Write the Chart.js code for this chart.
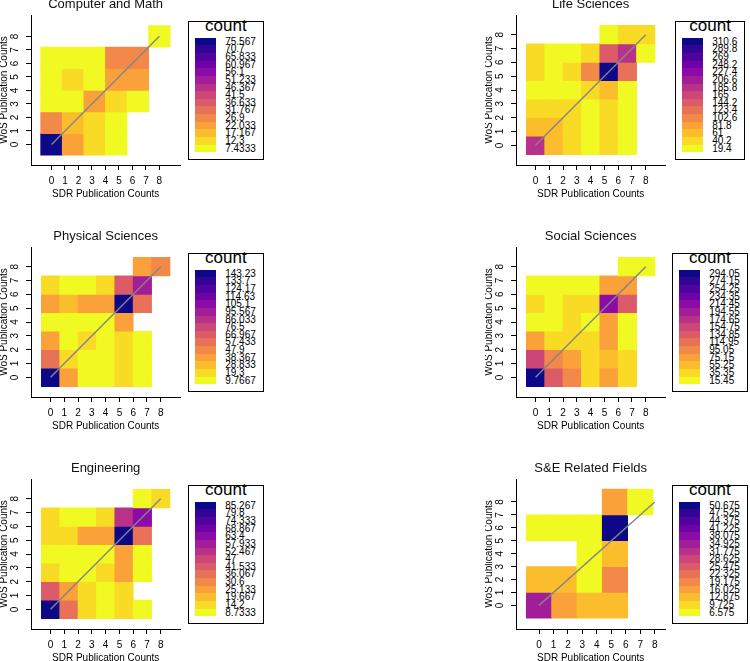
<!DOCTYPE html>
<html><head><meta charset="utf-8">
<script src="https://cdn.jsdelivr.net/npm/chart.js@4.4.1/dist/chart.umd.min.js"></script>
<style>
html,body{margin:0;padding:0;background:#fff;overflow:hidden}
#wrap{position:relative;width:750px;height:661px;overflow:hidden;font-family:'Liberation Sans',Arial,sans-serif;background:#fff}
canvas{position:absolute}
.leg{position:absolute;box-sizing:border-box;height:139px;border:1.3px solid #000;padding:16.3px 7px 0 5.7px;background:#fff}
.lt{position:absolute;left:0;right:0;top:-4.7px;text-align:center;font-size:17px;line-height:17px;color:#000}
.lb{display:flex}
.sw div{width:21.5px;height:7.63px}
.lab{margin-left:9px;font-size:10px;color:#000}
.lab div{height:7.63px;line-height:7.63px;white-space:nowrap}
</style></head><body><div id="wrap"></div>
<script>
// ---------- DATA ----------
const axisTicks = [0, 1, 2, 3, 4, 5, 6, 7, 8];
const diagonal = [{x: 0, y: 0}, {x: 8, y: 8}];

// Computer and Math (rows: bottom -> top)
const cmX = [0, 1.6, 3.2, 4.8, 6.4, 8];
const cmY = [0, 1.6, 3.2, 4.8, 6.4, 8];
const cmCounts = [
  [76, 22, 14, 8, null, null],
  [28, 19, 13, 8, null, null],
  [8, 8, 22, 14, 8, null],
  [8, 13, 8, 22, 23, null],
  [8, 8, 8, 28, 28, null],
  [null, null, null, null, null, 8]
];
const cmLegend = ['75.567','70.7','65.833','60.967','56.1','51.233','46.367','41.5','36.633','31.767','26.9','22.033','17.167','12.3','7.4333'];

// Life Sciences
const lsX = [0, 1.333, 2.667, 4, 5.333, 6.667, 8];
const lsY = [0, 1.333, 2.667, 4, 5.333, 6.667, 8];
const lsCounts = [
  [195, 68, 46, 22, 46, 25, null],
  [68, 66, 46, 24, 46, 22, null],
  [46, 46, 44, 22, 46, 20, null],
  [22, 21, 23, 46, 66, 25, null],
  [47, 20, 46, 110, 310, 125, null],
  [46, 22, 21, 46, 150, 190, 24],
  [null, null, null, null, 22, 48, 47]
];
const lsLegend = ['310.6','289.8','269','248.2','227.4','206.6','185.8','165','144.2','123.4','102.6','81.8','61','40.2','19.4'];

// Physical Sciences
const psX = [0, 1.333, 2.667, 4, 5.333, 6.667, 8];
const psY = [0, 1.333, 2.667, 4, 5.333, 6.667, 8];
const psCounts = [
  [143, 38, 10, 11, 18, 10, null],
  [62, 20, 10, 10, 18, 10, null],
  [36, 10, 22, 11, 18, 10, null],
  [10, 10, 10, 10, 36, null, null],
  [37, 28, 37, 37, 141, 62, null],
  [22, 10, 11, 21, 66, 100, null],
  [null, null, null, null, null, 37, 52]
];
const psLegend = ['143.23','133.7','124.17','114.63','105.1','95.567','86.033','76.5','66.967','57.433','47.9','38.367','28.833','19.3','9.7667'];

// Social Sciences
const ssX = [0, 1.333, 2.667, 4, 5.333, 6.667, 8];
const ssY = [0, 1.333, 2.667, 4, 5.333, 6.667, 8];
const ssCounts = [
  [294, 140, 100, 45, 78, 45, null],
  [145, 100, 78, 45, 60, 42, null],
  [72, 45, 45, 42, 78, 18, null],
  [18, 17, 40, 18, 68, 16, null],
  [45, 17, 45, 44, 205, 125, null],
  [17, 17, 17, 17, 70, 78, null],
  [null, null, null, null, null, 16, 16]
];
const ssLegend = ['294.05','274.15','254.25','234.35','214.45','194.55','174.65','154.75','134.85','114.95','95.05','75.15','55.25','35.35','15.45'];

// Engineering
const enX = [0, 1.333, 2.667, 4, 5.333, 6.667, 8];
const enY = [0, 1.333, 2.667, 4, 5.333, 6.667, 8];
const enCounts = [
  [85, 36, 16, 9, 15, 9, null],
  [44, 25, 16, 9, 15, null, null],
  [15, 9, 9, 15, 24, 9, null],
  [9, 9, 9, 9, 23, 9, null],
  [16, 16, 25, 24, 84, 36, null],
  [15, 9, 9, 15, 50, 63, null],
  [null, null, null, null, null, 9, 16]
];
const enLegend = ['85.267','79.8','74.333','68.867','63.4','57.933','52.467','47','41.533','36.067','30.6','25.133','19.667','14.2','8.7333'];

// S&E Related Fields
const seX = [0, 1.75, 3.5, 5.25, 7];
const seY = [0, 2, 4, 6, 8];
const seCounts = [
  [35, 17, 14, 12, null],
  [14, 14, 7, 20, null],
  [null, null, 7, 13, null],
  [7, 7, 7, 51, null],
  [null, null, null, 17, 7]
];
const seLegend = ['50.675','47.525','44.375','41.225','38.075','34.925','31.775','28.625','25.475','22.325','19.175','16.025','12.875','9.725','6.575'];

// ---------- LAYOUT ----------
const panels = [
  {title: 'Computer and Math', x: cmX, y: cmY, counts: cmCounts, legend: cmLegend, left: 0, top: -3, xr: [-1.52, 9.55], yr: [-1.52, 9.58], legLeft: 188, legTop: 20.5},
  {title: 'Life Sciences', x: lsX, y: lsY, counts: lsCounts, legend: lsLegend, left: 485, top: -3, xr: [-1.42, 9.42], yr: [-1.42, 9.42], legLeft: 675, legTop: 20.5},
  {title: 'Physical Sciences', x: psX, y: psY, counts: psCounts, legend: psLegend, left: 0, top: 229, xr: [-1.42, 9.42], yr: [-1.42, 9.42], legLeft: 188, legTop: 252.5},
  {title: 'Social Sciences', x: ssX, y: ssY, counts: ssCounts, legend: ssLegend, left: 485, top: 229, xr: [-1.42, 9.42], yr: [-1.42, 9.42], legLeft: 672, legTop: 252.5},
  {title: 'Engineering', x: enX, y: enY, counts: enCounts, legend: enLegend, left: 0, top: 461, xr: [-1.42, 9.42], yr: [-1.42, 9.42], legLeft: 188, legTop: 484.5},
  {title: 'S&E Related Fields', x: seX, y: seY, counts: seCounts, legend: seLegend, left: 485, top: 461, xr: [-1.59, 8.73], yr: [-1.83, 9.78], legLeft: 672, legTop: 484.5}
];

// ---------- COLOURS (reversed plasma, 15 levels) ----------
const PLASMA_STOPS = ['#0d0887','#41049d','#6a00a8','#8f0da4','#b12a90','#cc4778','#e16462','#f2844b','#fca636','#fcce25','#f0f921'];
const LEVELS = 15;
function hex2rgb(h) { return [1, 3, 5].map(i => parseInt(h.substr(i, 2), 16)); }
function plasma(t) {
  const p = Math.max(0, Math.min(1, t)) * 10;
  const i = Math.min(9, Math.floor(p));
  const f = p - i;
  const a = hex2rgb(PLASMA_STOPS[i]), b = hex2rgb(PLASMA_STOPS[i + 1]);
  return 'rgb(' + a.map((v, j) => Math.round(v + (b[j] - v) * f)).join(',') + ')';
}
function levelColor(k) { return plasma(1 - k / (LEVELS - 1)); }
function levelOf(v, lo, hi) { return Math.max(0, Math.min(LEVELS - 1, Math.round((v - lo) / (hi - lo) * (LEVELS - 1)))); }

Chart.defaults.font.family = "'Liberation Sans', Arial, sans-serif";
Chart.defaults.color = '#000';

const wrap = document.getElementById('wrap');
const CW = 181, CH = 204;

function gridOpts() {
  return {display: true, drawOnChartArea: false, drawTicks: true, tickLength: 5, color: '#000', lineWidth: 1, offset: false};
}

panels.forEach(p => {
  const cv = document.createElement('canvas');
  cv.width = CW; cv.height = CH;
  cv.style.left = p.left + 'px'; cv.style.top = p.top + 'px';
  cv.style.width = CW + 'px'; cv.style.height = CH + 'px';
  wrap.appendChild(cv);

  const lo = parseFloat(p.legend[p.legend.length - 1]);
  const hi = parseFloat(p.legend[0]);
  const hy = (p.y[1] - p.y[0]) / 2;
  const cells = [], colors = [];
  p.counts.forEach((row, r) => row.forEach((v, c) => {
    if (v === null) return;
    cells.push({x: p.x[c], y: [p.y[r] - hy, p.y[r] + hy]});
    colors.push(levelColor(levelOf(v, lo, hi)));
  }));

  const chart = new Chart(cv, {
    type: 'bar',
    data: {
      datasets: [
        {type: 'line', data: diagonal, xAxisID: 'x', yAxisID: 'y', borderColor: '#84848c', borderWidth: 1.4,
         pointRadius: 0, fill: false, order: 0},
        {type: 'bar', data: cells, xAxisID: 'xb', yAxisID: 'y', backgroundColor: colors, borderWidth: 0,
         grouped: false, barPercentage: 1, categoryPercentage: 1, order: 1}
      ]
    },
    options: {
      responsive: false, animation: false, events: [],
      layout: {padding: 0},
      plugins: {
        legend: {display: false}, tooltip: {enabled: false},
        title: {display: true, text: p.title, fullSize: false, color: '#111',
                font: {size: 13, weight: 'normal', lineHeight: 1.2}, padding: {top: 0, bottom: 2.4}}
      },
      scales: {
        x: {type: 'linear', position: 'bottom', min: p.xr[0], max: p.xr[1], bounds: 'data', offset: false,
            afterBuildTicks: s => { s.ticks = axisTicks.map(v => ({value: v})); },
            afterFit: s => { s.height = 36; },
            ticks: {font: {size: 10}, padding: 5, maxRotation: 0, minRotation: 0, autoSkip: false, color: '#000'},
            title: {display: true, text: 'SDR Publication Counts', color: '#000', font: {size: 10, lineHeight: 1}, padding: {top: 0, bottom: 2}},
            grid: gridOpts(), border: {display: true, color: '#000', width: 1}},
        xb: {type: 'linear', display: false, position: 'bottom', min: p.xr[0], max: p.xr[1], bounds: 'data', offset: false,
             afterBuildTicks: s => { s.ticks = p.x.map(v => ({value: v})); },
             grid: {offset: false}},
        y: {type: 'linear', position: 'left', min: p.yr[0], max: p.yr[1], bounds: 'data', beginAtZero: false,
            afterBuildTicks: s => { s.ticks = axisTicks.map(v => ({value: v})); },
            afterFit: s => { s.width = 31; },
            ticks: {font: {size: 10}, padding: 7.5, minRotation: 90, maxRotation: 90, crossAlign: 'center', autoSkip: false, color: '#000'},
            title: {display: true, text: 'WoS Publication Counts', color: '#000', font: {size: 10, lineHeight: 1}, padding: {top: -1, bottom: 0}},
            grid: gridOpts(), border: {display: true, color: '#000', width: 1}}
      }
    }
  });
  // tile width = one bin on the library's own x scale
  const xs = chart.scales.xb;
  chart.data.datasets[1].barThickness = Math.abs(xs.getPixelForValue(p.x[1]) - xs.getPixelForValue(p.x[0]));
  chart.update('none');
});

// ---------- COLOUR-KEY BOXES ----------
panels.forEach(p => {
  const box = document.createElement('div');
  box.className = 'leg';
  box.style.left = p.legLeft + 'px';
  box.style.top = p.legTop + 'px';
  const t = document.createElement('div');
  t.className = 'lt'; t.textContent = 'count';
  box.appendChild(t);
  const body = document.createElement('div'); body.className = 'lb';
  const sw = document.createElement('div'); sw.className = 'sw';
  const lab = document.createElement('div'); lab.className = 'lab';
  p.legend.forEach((txt, i) => {
    const s = document.createElement('div');
    s.style.background = levelColor(LEVELS - 1 - i);
    sw.appendChild(s);
    const l = document.createElement('div');
    l.textContent = txt;
    lab.appendChild(l);
  });
  body.appendChild(sw); body.appendChild(lab);
  box.appendChild(body);
  wrap.appendChild(box);
});
</script></body></html>
